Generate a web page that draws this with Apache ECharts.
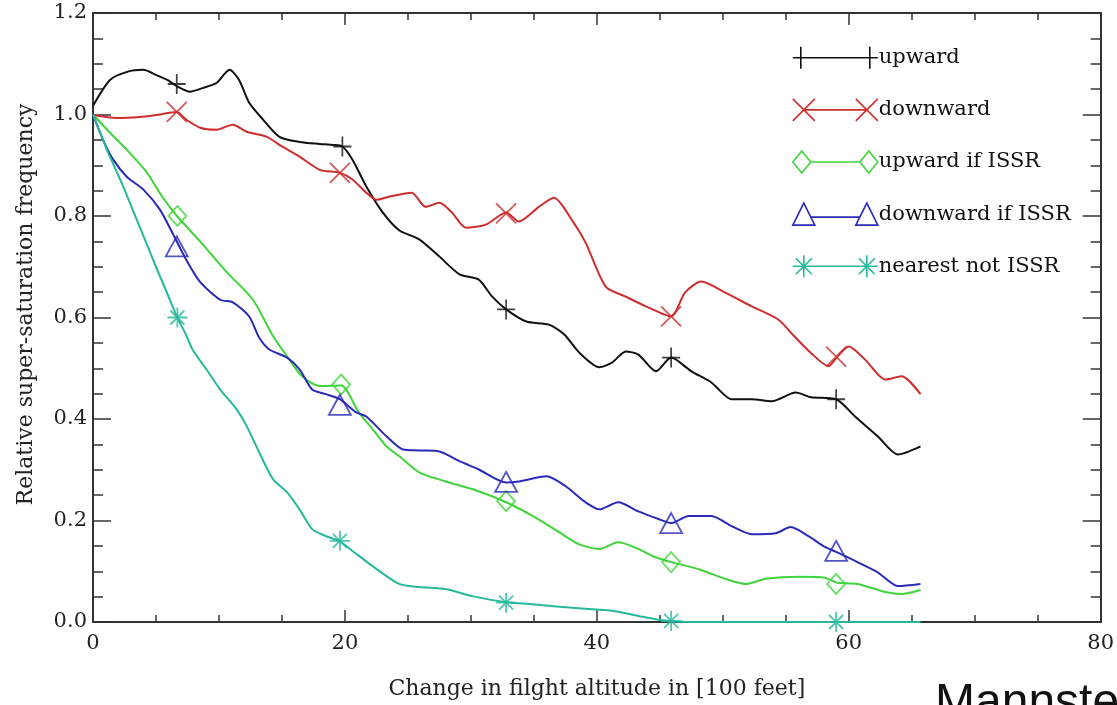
<!DOCTYPE html>
<html>
<head>
<meta charset="utf-8">
<script src="https://cdn.jsdelivr.net/npm/echarts@6/dist/echarts.min.js"></script>
<style>
    html, body { margin: 0; padding: 0; background: #fff; }
    #chart { width: 1117px; height: 705px; }
</style>
</head>
<body>
<div id="chart"></div>
<script>
    // curves: [altitude change, relative frequency]
    var upward = [[0,1.017],[1.35,1.068],[2.7,1.084],[4.0,1.088],[5.0,1.078],[5.9,1.068],[6.65,1.056],[7.7,1.045],[8.7,1.052],[9.8,1.062],[10.85,1.088],[11.6,1.068],[12.4,1.023],[13.5,0.99],[14.8,0.956],[16.4,0.946],[18.0,0.942],[19.0,0.94],[19.8,0.937],[20.6,0.911],[21.7,0.858],[23.0,0.807],[24.3,0.772],[25.9,0.754],[27.5,0.72],[29.1,0.685],[30.6,0.675],[31.7,0.641],[32.8,0.616],[34.4,0.592],[36.2,0.586],[37.4,0.567],[38.6,0.531],[40.2,0.502],[41.2,0.511],[42.3,0.533],[43.3,0.527],[44.7,0.494],[45.9,0.521],[47.5,0.494],[49.1,0.472],[50.7,0.439],[52.3,0.439],[53.9,0.435],[55.8,0.452],[57.0,0.443],[59.0,0.439],[60.5,0.405],[62.3,0.366],[63.9,0.33],[65.7,0.346]];
    var downward = [[0,0.999],[1.9,0.993],[3.7,0.995],[5.0,0.999],[6.65,1.005],[7.4,0.99],[8.5,0.974],[9.8,0.97],[11.1,0.98],[12.2,0.966],[13.8,0.956],[15.0,0.937],[16.4,0.917],[18.0,0.891],[19.6,0.885],[20.6,0.872],[21.7,0.846],[22.5,0.832],[23.5,0.838],[25.3,0.846],[26.4,0.818],[27.5,0.826],[28.5,0.807],[29.6,0.777],[31.2,0.783],[32.8,0.807],[33.8,0.789],[35.4,0.818],[36.6,0.836],[38.0,0.793],[39.1,0.748],[40.7,0.661],[42.3,0.641],[43.9,0.622],[45.9,0.602],[47.0,0.649],[48.3,0.671],[50.2,0.649],[52.3,0.622],[54.4,0.596],[55.6,0.565],[57.0,0.53],[58.4,0.504],[59.0,0.52],[60.0,0.543],[61.3,0.517],[62.9,0.478],[64.2,0.484],[65.7,0.449]];
    var upwardIssr = [[0,1.0],[1.35,0.964],[2.7,0.93],[4.3,0.885],[5.5,0.838],[6.7,0.799],[8.5,0.75],[10.6,0.69],[12.7,0.635],[14.3,0.563],[15.6,0.517],[16.6,0.484],[18.0,0.465],[19.7,0.466],[21.1,0.413],[22.2,0.38],[23.3,0.346],[24.3,0.327],[25.9,0.295],[28.0,0.277],[30.1,0.262],[32.8,0.236],[34.9,0.209],[37.0,0.177],[38.6,0.153],[40.2,0.144],[41.7,0.157],[43.3,0.144],[44.4,0.13],[45.9,0.118],[48.1,0.104],[50.2,0.085],[51.8,0.075],[53.4,0.085],[56.0,0.089],[58.1,0.087],[59.0,0.078],[60.7,0.075],[62.9,0.059],[64.2,0.055],[65.7,0.063]];
    var downwardIssr = [[0,1.0],[0.8,0.95],[1.6,0.911],[2.7,0.877],[4.0,0.852],[5.3,0.813],[6.3,0.767],[7.4,0.714],[8.5,0.67],[10.1,0.635],[11.1,0.63],[12.4,0.602],[13.2,0.56],[14.0,0.537],[15.4,0.521],[16.4,0.498],[17.4,0.458],[18.5,0.449],[19.6,0.439],[20.9,0.413],[21.7,0.405],[23.3,0.366],[24.6,0.34],[25.9,0.338],[27.5,0.336],[29.1,0.317],[30.6,0.301],[32.8,0.275],[33.8,0.277],[36.0,0.287],[37.5,0.268],[39.1,0.236],[40.2,0.222],[41.7,0.236],[43.3,0.218],[44.9,0.203],[45.9,0.195],[47.3,0.209],[49.1,0.209],[50.7,0.189],[52.3,0.173],[54.2,0.175],[55.4,0.187],[56.8,0.169],[58.1,0.148],[59.0,0.138],[60.7,0.118],[62.3,0.098],[63.9,0.071],[65.7,0.075]];
    var nearestNotIssr = [[0,1.0],[1.1,0.931],[2.4,0.858],[3.7,0.779],[5.0,0.70],[6.1,0.635],[6.7,0.60],[7.4,0.565],[7.9,0.537],[9.0,0.498],[10.1,0.458],[11.4,0.419],[12.2,0.386],[13.2,0.334],[14.3,0.281],[15.4,0.256],[16.4,0.222],[17.4,0.183],[18.5,0.169],[19.6,0.159],[20.6,0.14],[22.2,0.11],[24.3,0.075],[25.9,0.069],[28.0,0.065],[30.1,0.051],[32.8,0.039],[34.9,0.035],[37.0,0.03],[39.1,0.026],[41.2,0.022],[43.3,0.012],[45.4,0.003],[48.1,0],[65.7,0]];

    // marker positions on each curve
    var upwardMarks = [[6.65,1.06],[19.8,0.937],[32.8,0.616],[45.9,0.521],[59.0,0.439]];
    var downwardMarks = [[6.65,1.005],[19.6,0.885],[32.8,0.805],[45.9,0.602],[59.0,0.523]];
    var upwardIssrMarks = [[6.7,0.80],[19.7,0.468],[32.8,0.238],[45.9,0.118],[59.0,0.075]];
    var downwardIssrMarks = [[6.65,0.74],[19.6,0.428],[32.8,0.276],[45.9,0.195],[59.0,0.14]];
    var nearestMarks = [[6.7,0.60],[19.6,0.16],[32.8,0.038],[45.9,0.002],[59.0,0.0]];

    var names = ['upward', 'downward', 'upward if ISSR', 'downward if ISSR', 'nearest not ISSR'];
    var colors = ['#111111', '#cc2e2e', '#3fd43a', '#2a2ab8', '#26b89c'];
    var curves = [upward, downward, upwardIssr, downwardIssr, nearestNotIssr];
    var marks = [upwardMarks, downwardMarks, upwardIssrMarks, downwardIssrMarks, nearestMarks];

    var symbols = [
        'path://M10,0 L10,20 M0,10 L20,10',
        'path://M0,0 L20,20 M0,20 L20,0',
        'path://M10,0 L20,10 L10,20 L0,10 Z',
        'path://M11,0 L22,20 L0,20 Z',
        'path://M10,0 L10,20 M0,10 L20,10 M3,3 L17,17 M3,17 L17,3'
    ];
    var symbolSizes = [[18, 20], [20, 20], [18, 20], [22, 20], [20, 20]];
    // legend icons: marker - line - marker
    var legendIcons = [
        'path://M8,1 L8,21 M0,11 L85,11 M77,1 L77,21',
        'path://M0,0 L22,22 M0,22 L22,0 M11,11 L74,11 M63,0 L85,22 M63,22 L85,0',
        'path://M0,11 L9,0 L18,11 L9,22 Z M18,11 L67,11 M67,11 L76,0 L85,11 L76,22 Z',
        'path://M0,22 L11,0 L22,22 Z M18,14 L67,14 M63,22 L74,0 L85,22 Z',
        'path://M11,0 L11,22 M0,11 L22,11 M3,3 L19,19 M3,19 L19,3 M22,11 L63,11 M74,0 L74,22 M63,11 L85,11 M66,3 L82,19 M66,19 L82,3'
    ];

    var serif = 'DejaVu Serif';
    var axisCol = '#333';

    var series = [];
    for (var i = 0; i < names.length; i++) {
        series.push({
            name: names[i],
            type: 'line',
            data: curves[i],
            symbol: 'none',
            smooth: 0.25,
            clip: false,
            lineStyle: {color: colors[i], width: 2},
            itemStyle: {color: colors[i]},
            z: 3
        });
        series.push({
            name: names[i] + ' marks',
            type: 'scatter',
            data: marks[i],
            symbol: symbols[i],
            symbolSize: symbolSizes[i],
            clip: false,
            itemStyle: {color: 'transparent', borderColor: colors[i], borderWidth: 1.8},
            z: 4
        });
    }

    var legendData = names.map(function (n, i) {
        return {
            name: n,
            icon: legendIcons[i],
            itemStyle: {color: 'transparent', borderColor: colors[i], borderWidth: 1.6}
        };
    });

    function xAx(pos, showLabel) {
        return {
            type: 'value', position: pos, min: 0, max: 80, interval: 20,
            name: showLabel ? 'Change in filght altitude in [100 feet]' : '',
            nameLocation: 'middle', nameGap: 56,
            nameTextStyle: {fontFamily: serif, fontSize: 22, color: '#222'},
            axisLine: {show: true, onZero: false, lineStyle: {color: axisCol, width: 2}},
            axisTick: {show: true, inside: true, length: 12, lineStyle: {color: axisCol, width: 1.5}},
            minorTick: {show: true, splitNumber: 4, length: 7, lineStyle: {color: axisCol, width: 1.5}},
            axisLabel: {show: showLabel, margin: 11, fontFamily: serif, fontSize: 21, color: '#222'},
            splitLine: {show: false}
        };
    }
    function yAx(pos, showLabel) {
        return {
            type: 'value', position: pos, min: 0, max: 1.2, interval: 0.2,
            name: showLabel ? 'Relative super-saturation frequency' : '',
            nameLocation: 'middle', nameGap: 56,
            nameTextStyle: {fontFamily: serif, fontSize: 22, color: '#222', padding: [0, 0, 0, 26]},
            axisLine: {show: true, onZero: false, lineStyle: {color: axisCol, width: 2}},
            axisTick: {show: true, inside: true, length: 18, lineStyle: {color: axisCol, width: 1.5}},
            minorTick: {show: true, splitNumber: 4, length: 10, lineStyle: {color: axisCol, width: 1.5}},
            axisLabel: {
                show: showLabel, margin: 6, fontFamily: serif, fontSize: 21, color: '#222',
                formatter: function (v) { return v.toFixed(1); }
            },
            splitLine: {show: false}
        };
    }

    var chart = echarts.init(document.getElementById('chart'), null, {renderer: 'canvas'});
    chart.setOption({
        animation: false,
        backgroundColor: '#fff',
        grid: {left: 93, right: 14, top: 13, bottom: 82, containLabel: false},
        xAxis: [xAx('bottom', true), xAx('top', false)],
        yAxis: [yAx('left', true), yAx('right', false)],
        legend: {
            orient: 'vertical', left: 787, top: 41,
            itemWidth: 85, itemHeight: 22, itemGap: 28.5,
            symbolKeepAspect: false,
            selectedMode: false,
            data: legendData,
            textStyle: {fontFamily: serif, fontSize: 21, color: '#111', padding: [0, 0, 0, -4]}
        },
        graphic: [{
            type: 'text', left: 935, top: 680, silent: true,
            style: {text: 'Mannstein', font: '48px "Liberation Sans"', fill: '#111'}
        }],
        series: series
    });
</script>
</body>
</html>
